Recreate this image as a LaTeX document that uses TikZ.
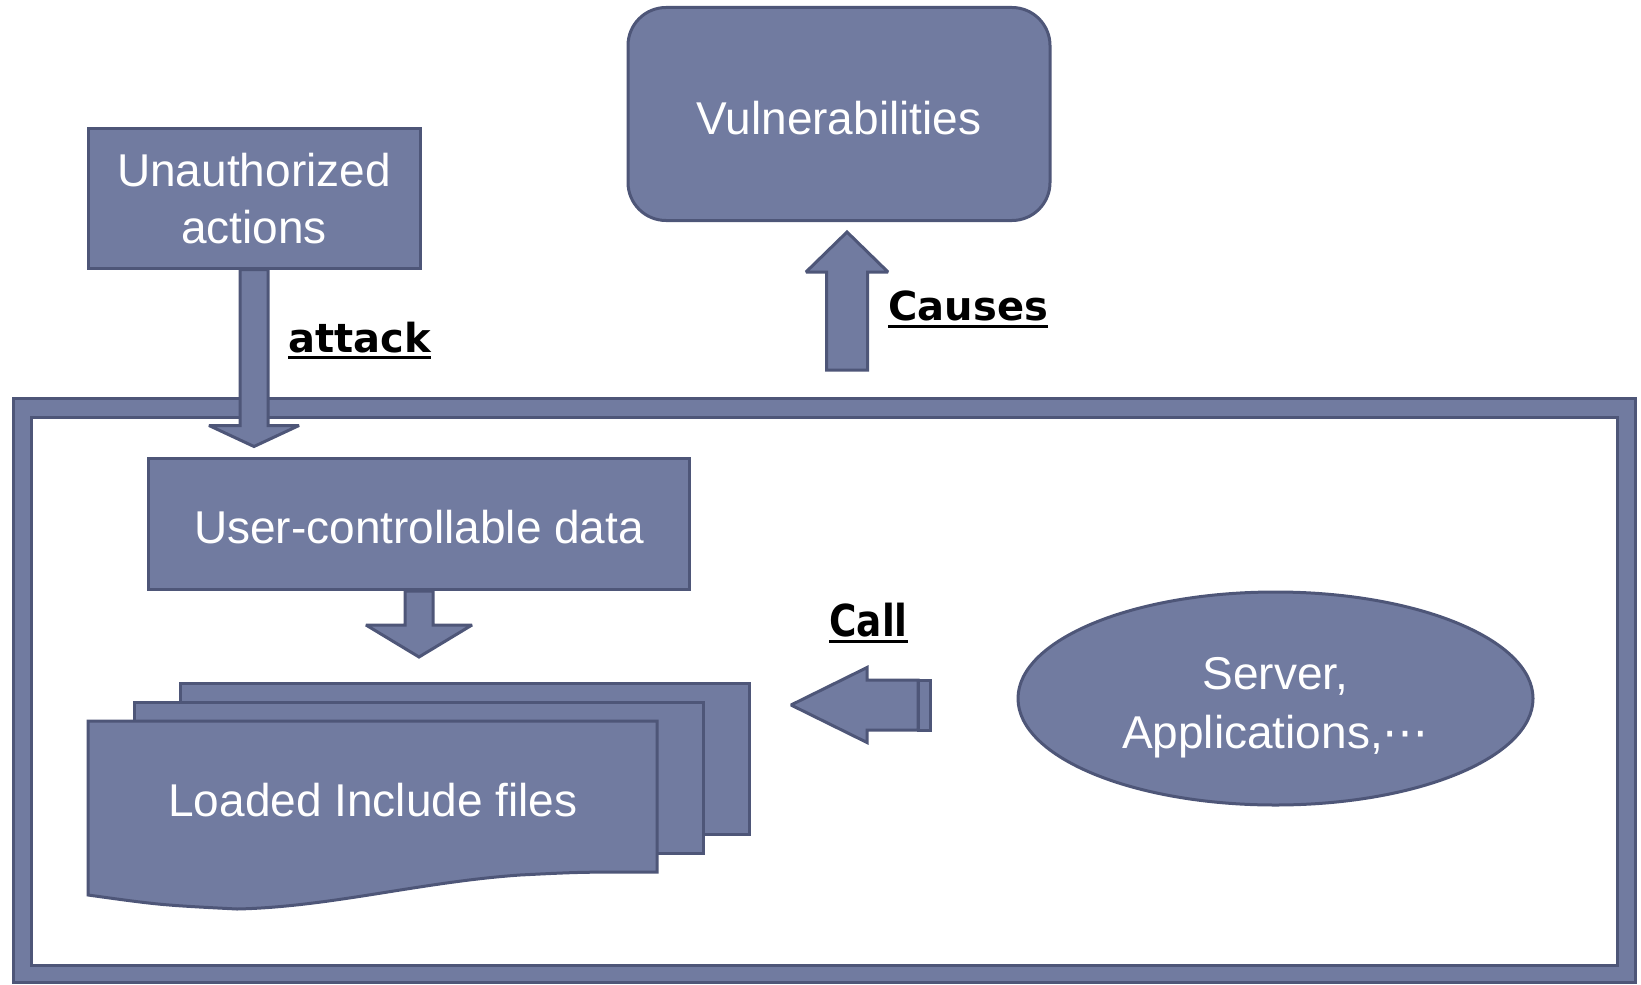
\documentclass[tikz,border=0pt]{standalone}
\usepackage{fontspec}
\setmainfont{Liberation Sans}
\newfontfamily\lblfont{DejaVu Sans}
\newfontfamily\dejavu{DejaVu Sans}
\usetikzlibrary{calc,shapes.geometric}

\definecolor{boxfill}{HTML}{717BA0}
\definecolor{boxline}{HTML}{4E5678}

\tikzset{
  shapebox/.style={fill=boxfill, draw=boxline, line width=1.5pt},
  arrowbody/.style={shapebox, miter limit=2},
  boxtext/.style={text=white, font=\fontsize{23}{28.5}\selectfont, align=center},
  tag/.style={inner sep=0pt, font=\lblfont\bfseries\fontsize{20}{24}\selectfont, text=black},
  uline/.style={line width=1.5pt, draw=black},
}

% block arrow: #1 tail, #2 tip, #3 half shaft width, #4 half head width, #5 head length
\newcommand\blockarrow[5]{%
  \coordinate (bahead) at ($(#2)!#5!(#1)$);
  \path[arrowbody]
    ($(#1)!#3!90:(#2)$) -- ($(bahead)!#3!-90:(#1)$) -- ($(bahead)!#4!-90:(#1)$)
    -- (#2) -- ($(bahead)!#4!90:(#1)$) -- ($(bahead)!#3!90:(#1)$)
    -- ($(#1)!#3!-90:(#2)$) -- cycle;
}

\begin{document}
\begin{tikzpicture}[x=0.5pt, y=-0.5pt]
\useasboundingbox (0,0) rectangle (1641,984);

% outer frame band
\path[shapebox, even odd rule] (13,398) rectangle (1635,982) (31,417) rectangle (1617,965);

% boxes
\node[shapebox, boxtext, inner sep=0pt, minimum width=166pt, minimum height=69.5pt]
  (ua) at (254,198.5) {Unauthorized\\actions};
\node[shapebox, boxtext, rounded corners=19pt, inner sep=0pt, minimum width=211pt, minimum height=106.5pt]
  (vul) at (839,114) {\raisebox{0pt}[\dimexpr\height+4pt][\depth]{Vulnerabilities}};
\node[shapebox, boxtext, inner sep=0pt, minimum width=270.5pt, minimum height=65.5pt]
  (ucd) at (419,524) {\raisebox{0pt}[\dimexpr\height+3pt][\depth]{User-controllable data}};

% stacked include files
\path[shapebox] (180,683) rectangle (749,834);
\path[shapebox] (134,702) rectangle (703,853);
\path[shapebox] (88,721) -- (657,721) -- (657,872)
  .. controls (580,872) .. (520,875)
  .. controls (420,882) and (330,907) .. (237,909)
  .. controls (160,905) .. (88,895) -- cycle;
\node[boxtext] (files) at (373,800) {Loaded Include files};

% server ellipse and its caption
\node[shapebox, ellipse, inner sep=0pt, minimum width=257.5pt, minimum height=106.5pt]
  (srv) at (1275.5,698.5) {};
\node[boxtext, font=\fontsize{23}{29.5}\selectfont] (srvtxt) at ($(srv.center)+(0,9)$)
  {Server,\\Applications,{\dejavu ⋯}};

% arrows
\coordinate (attackTip) at ($(ua.south)+(0,177)$);
\blockarrow{ua.south}{attackTip}{7pt}{22.5pt}{10.5pt}

\coordinate (causeTail) at (847,370);
\coordinate (causeTip) at (847,232);
\blockarrow{causeTail}{causeTip}{10.25pt}{20.5pt}{20pt}

\coordinate (dataTip) at ($(ucd.south)+(0,66)$);
\blockarrow{ucd.south}{dataTip}{7pt}{26.5pt}{16pt}

\coordinate (callTail) at (918,705);
\coordinate (callTip) at (791,705);
\blockarrow{callTail}{callTip}{12.5pt}{18.75pt}{38pt}
\path[shapebox] (918,680) rectangle (930,730);

% labels
\node[tag, anchor=base west] (attacklbl) at (288,352) {attack};
\draw[uline] ([yshift=-2.5pt]attacklbl.base west) -- ([yshift=-2.5pt]attacklbl.base east);
\node[tag, anchor=base west] (causeslbl) at (888,320) {Causes};
\draw[uline] ([yshift=-3pt]causeslbl.base west) -- ([yshift=-3pt]causeslbl.base east);
\node[tag, anchor=base west] (calllbl) at (829,636) {\scalebox{0.85}[1]{\fontsize{22}{26}\selectfont Call}};
\draw[uline] ([yshift=-2.5pt]calllbl.base west) -- ([yshift=-2.5pt]calllbl.base east);
\end{tikzpicture}
\end{document}
